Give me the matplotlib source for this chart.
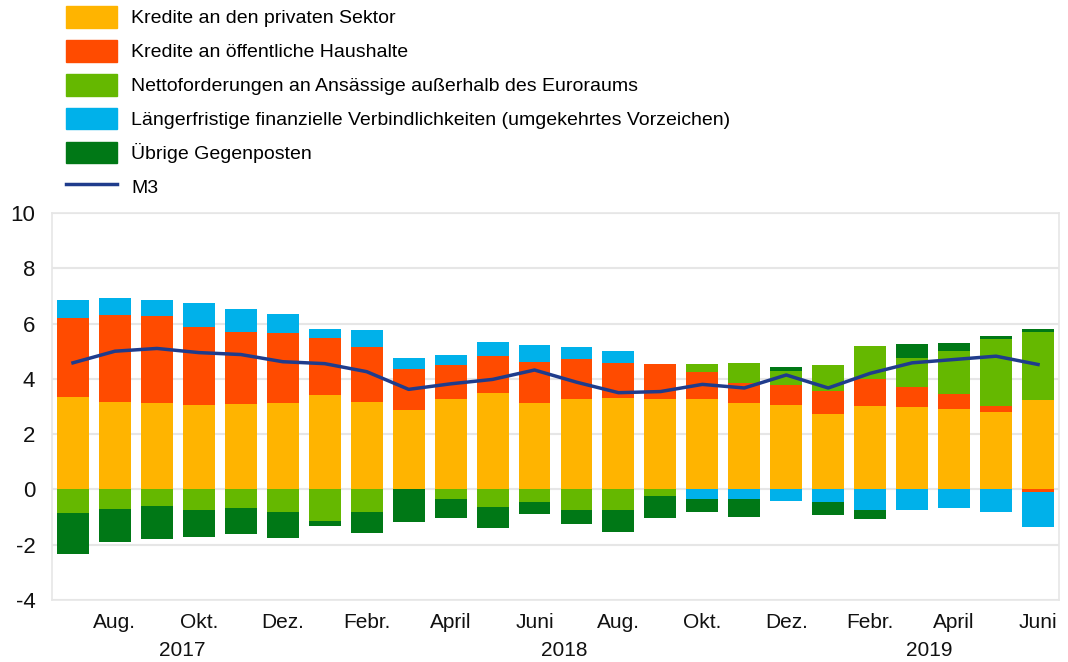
import numpy as np
import matplotlib
matplotlib.use("Agg")
import matplotlib.pyplot as plt
from matplotlib.patches import Patch
from matplotlib.lines import Line2D

plt.rcParams['font.family'] = ['Liberation Sans', 'DejaVu Sans']
plt.rcParams['axes.unicode_minus'] = False

# Juli 2017 .. Juni 2019, monthly
tick_labels = ["Aug.", "Okt.", "Dez.", "Febr.", "April", "Juni",
               "Aug.", "Okt.", "Dez.", "Febr.", "April", "Juni"]
years = ["2017", "2018", "2019"]

private_sector = [3.35, 3.17, 3.14, 3.05, 3.10, 3.14, 3.40, 3.17, 2.86, 3.28, 3.49, 3.11,
                  3.28, 3.32, 3.28, 3.28, 3.13, 3.05, 2.74, 3.01, 2.99, 2.92, 2.80, 3.25]
public_sector = [2.86, 3.13, 3.13, 2.81, 2.59, 2.53, 2.06, 1.98, 1.51, 1.23, 1.32, 1.50,
                 1.45, 1.24, 1.27, 0.96, 0.71, 0.71, 0.82, 0.97, 0.72, 0.52, 0.22, -0.08]
net_external = [-0.84, -0.72, -0.60, -0.75, -0.66, -0.81, -1.15, -0.81, 0.0, -0.36, -0.63, -0.46,
                -0.75, -0.75, -0.24, 0.29, 0.75, 0.54, 0.94, 1.21, 1.06, 1.57, 2.41, 2.44]
longer_term = [0.66, 0.61, 0.60, 0.87, 0.82, 0.69, 0.36, 0.61, 0.37, 0.34, 0.52, 0.60,
               0.42, 0.44, 0.0, -0.34, -0.33, -0.42, -0.46, -0.76, -0.75, -0.66, -0.81, -1.28]
other = [-1.51, -1.17, -1.20, -0.97, -0.96, -0.94, -0.18, -0.76, -1.17, -0.69, -0.76, -0.44,
         -0.49, -0.78, -0.79, -0.48, -0.67, 0.12, -0.47, -0.32, 0.50, 0.30, 0.12, 0.13]
m3 = [4.58, 5.00, 5.10, 4.95, 4.88, 4.62, 4.55, 4.26, 3.62, 3.82, 3.98, 4.32,
      3.88, 3.50, 3.54, 3.80, 3.67, 4.14, 3.67, 4.20, 4.58, 4.70, 4.82, 4.52]

names = ["Kredite an den privaten Sektor",
         "Kredite an öffentliche Haushalte",
         "Nettoforderungen an Ansässige außerhalb des Euroraums",
         "Längerfristige finanzielle Verbindlichkeiten (umgekehrtes Vorzeichen)",
         "Übrige Gegenposten"]
colors = ["#FFB400", "#FF4B00", "#65B800", "#00B1EA", "#007816"]

fig = plt.figure(figsize=(10.68, 6.62), dpi=100)
ax = fig.add_axes([52 / 1068, 1 - 600 / 662, (1059 - 52) / 1068, (600 - 213) / 662])

x = np.arange(len(m3))
pos_base = np.zeros(len(x))
neg_base = np.zeros(len(x))
for series, col in zip([private_sector, public_sector, net_external, longer_term, other], colors):
    v = np.array(series)
    pos = np.where(v > 0, v, 0)
    neg = np.where(v < 0, v, 0)
    ax.bar(x, pos, 0.76, bottom=pos_base, color=col, zorder=2)
    ax.bar(x, neg, 0.76, bottom=neg_base, color=col, zorder=2)
    pos_base += pos
    neg_base += neg

ax.plot(x, m3, color="#1F3C8C", lw=2.5, zorder=3)

ax.set_xlim(-0.5, 23.5)
ax.set_ylim(-4, 10)
ax.set_yticks(range(-4, 11, 2))
ax.set_xticks(x[1::2])
ax.set_xticklabels(tick_labels)
ax.tick_params(axis="both", length=0, colors="#111111")
ax.tick_params(axis="y", pad=12, labelsize=16)
ax.tick_params(axis="x", pad=9, labelsize=15)
ax.grid(axis="y", color="#e6e6e6", lw=1.5, zorder=0)
for s in ax.spines.values():
    s.set_color("#e6e6e6")
    s.set_linewidth(1.2)

for yr, xp in zip(years, [2.6, 11.7, 20.4]):
    ax.text(xp, -0.105, yr, transform=ax.get_xaxis_transform(), ha="center", va="top",
            fontsize=15, color="#111111")

handles = [Patch(color=c) for c in colors] + [Line2D([], [], color="#1F3C8C", lw=2.5)]
fig.legend(handles, names + ["M3"], loc="upper left",
           bbox_to_anchor=(66 / 1068, 1 - 6 / 662), frameon=False, fontsize=14,
           handlelength=2.6, handleheight=1.35, handletextpad=0.75,
           labelspacing=0.62, borderpad=0, borderaxespad=0)

fig.savefig("out.png", dpi=100)
